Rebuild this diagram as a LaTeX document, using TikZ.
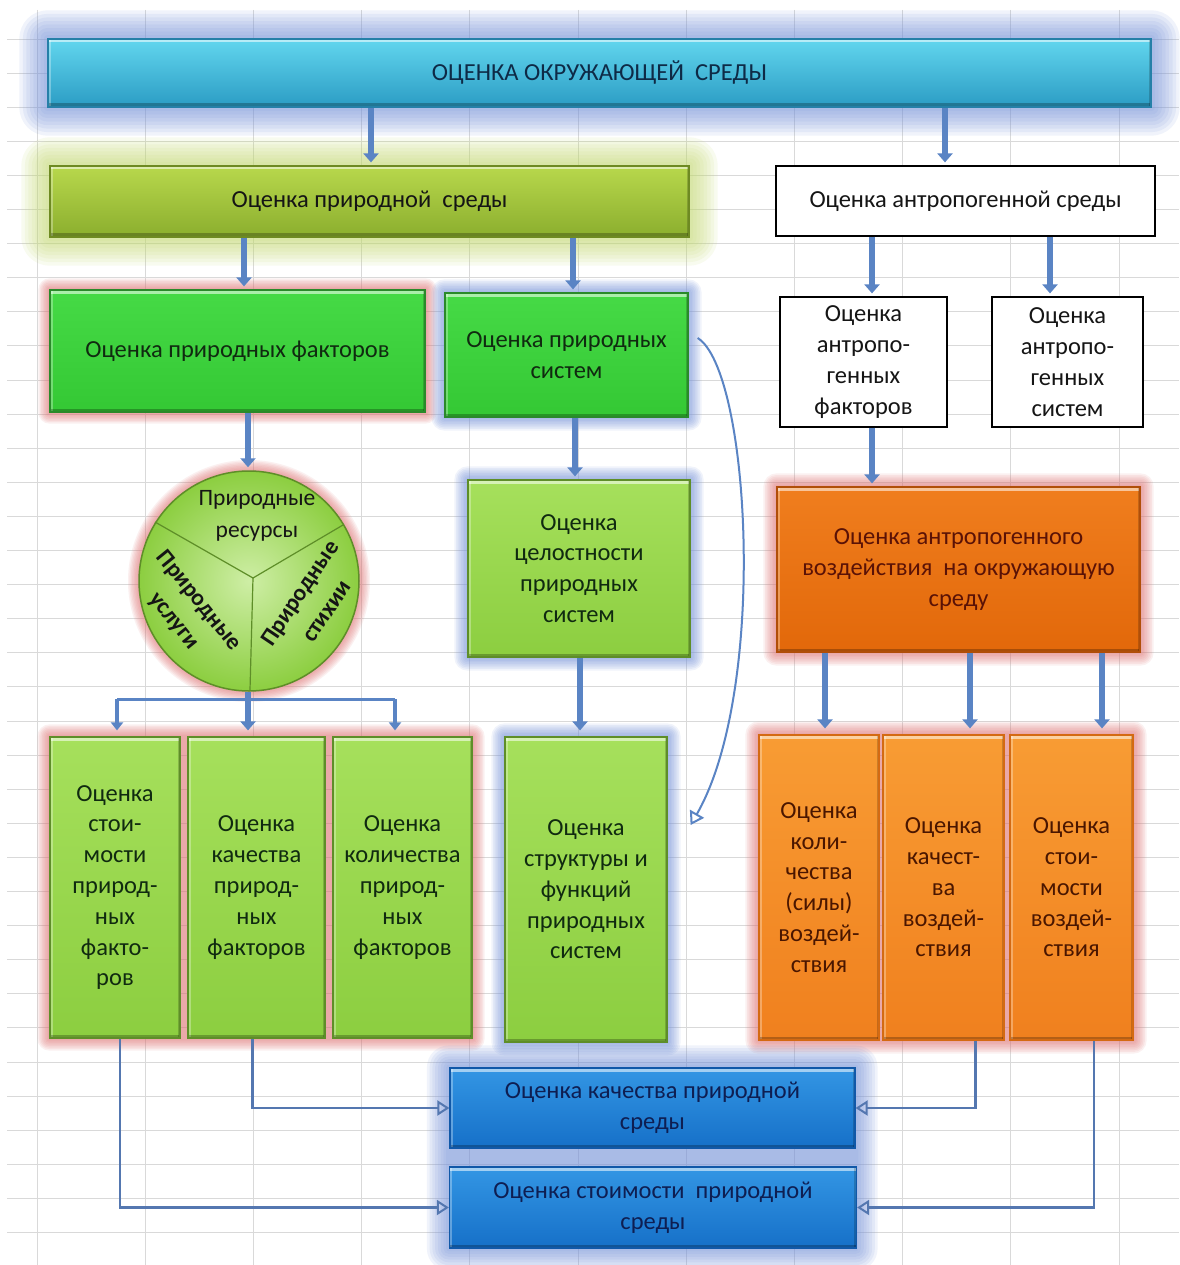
\documentclass[tikz,border=0pt]{standalone}
\usepackage{fontspec}
\setmainfont{Carlito}
\usetikzlibrary{arrows.meta,calc,backgrounds}
\definecolor{gridc}{HTML}{D9D9D9}
\definecolor{arrblue}{HTML}{5A84C4}
\definecolor{thinblue}{HTML}{5477B0}
\definecolor{glowblue}{HTML}{6F8FD8}
\definecolor{glowred}{HTML}{E07070}
\definecolor{glowyg}{HTML}{C2D86A}
\definecolor{txt}{HTML}{151515}
\newcommand\fsz{\fontsize{24.5}{30.8}\selectfont}
\newcommand\rsz{\fontsize{23.5}{32}\selectfont}
\newcommand\myglow[4]{%
  \foreach \k in {1,...,8}{%
    \pgfmathsetmacro\gs{\k*#4/8}%
    \fill[#3, opacity=0.1, rounded corners=\gs pt]
      ($#1+(-\gs pt,-\gs pt)$) rectangle ($#2+(\gs pt,\gs pt)$);
  }}
\begin{document}
\begin{tikzpicture}[x=1pt,y=-1pt,
  box/.style={draw, line width=1.2pt, align=center, inner sep=0pt, font=\fsz, text=txt},
  bevel/.style={path picture={
      \draw[white, opacity=0.55, line width=7pt] (path picture bounding box.north west) -- (path picture bounding box.north east);
      \draw[white, opacity=0.3, line width=5pt] (path picture bounding box.north west) -- (path picture bounding box.south west);
      \draw[black, opacity=0.25, line width=7pt] (path picture bounding box.south west) -- (path picture bounding box.south east);
      \draw[black, opacity=0.18, line width=5pt] (path picture bounding box.north east) -- (path picture bounding box.south east);}},
  topbox/.style={box, bevel, draw=topD, top color=topA, bottom color=topB, text=topT},
  natbox/.style={box, bevel, draw=natD, top color=natA, bottom color=natB},
  brightg/.style={box, bevel, draw=bgD, top color=bgA, bottom color=bgB, text=bgT},
  lightg/.style={box, bevel, draw=lgD, top color=lgA, bottom color=lgB, text=bgT},
  whitebox/.style={box, draw=black, fill=white},
  impbox/.style={box, bevel, draw=impD, top color=impA, bottom color=impB, text=impT},
  obox/.style={box, bevel, draw=oD, top color=oA, bottom color=oB, text=oT},
  bbox/.style={box, bevel, draw=bD, top color=bA, bottom color=bB, text=bT},
  tarrow/.style={draw=arrblue, line width=6pt, -{Triangle[width=15pt,length=9pt]}, shorten >=3pt},
  marrow/.style={draw=arrblue, line width=3.5pt, -{Triangle[width=12pt,length=8pt]}, shorten >=6pt},
  oarrow/.style={draw=thinblue, line width=2.5pt, -{Triangle[open,width=15pt,length=12pt,line width=2pt]}},
  carrow/.style={draw=arrblue, line width=2pt, -{Triangle[open,width=16pt,length=13pt,line width=2pt]}},
  rlab/.style={align=center, inner sep=0pt, font=\rsz\bfseries, text=txt}
]
\definecolor{topD}{HTML}{2580A8}
\definecolor{topA}{HTML}{62D6EE}
\definecolor{topB}{HTML}{2B9CC4}
\definecolor{topT}{HTML}{0E2A46}
\definecolor{natA}{HTML}{B8D84C}
\definecolor{natB}{HTML}{8BAE2E}
\definecolor{natD}{HTML}{6E8A22}
\definecolor{bgA}{HTML}{46DA46}
\definecolor{bgB}{HTML}{34C834}
\definecolor{bgD}{HTML}{2A8A2A}
\definecolor{bgT}{HTML}{102A10}
\definecolor{lgA}{HTML}{A6E05C}
\definecolor{lgB}{HTML}{8CCE40}
\definecolor{lgD}{HTML}{5E8E28}
\definecolor{impA}{HTML}{F07E1E}
\definecolor{impB}{HTML}{E2680A}
\definecolor{impD}{HTML}{B04E08}
\definecolor{impT}{HTML}{5A1206}
\definecolor{oA}{HTML}{F89C34}
\definecolor{oB}{HTML}{F0801E}
\definecolor{oD}{HTML}{D46A12}
\definecolor{oT}{HTML}{4A1600}
\definecolor{bA}{HTML}{3396E4}
\definecolor{bB}{HTML}{1670C8}
\definecolor{bD}{HTML}{1058A8}
\definecolor{bT}{HTML}{0E1E52}
\useasboundingbox (0,0) rectangle (1179,1265);

% ---------- nodes ----------
\node[topbox, minimum width=1103pt, minimum height=68pt] (top) at (599.5,73) {ОЦЕНКА ОКРУЖАЮЩЕЙ\ \ СРЕДЫ};
\node[natbox, minimum width=639pt, minimum height=71pt] (nat) at (369.5,201.5) {Оценка природной\ \ среды};
\node[whitebox, minimum width=379pt, minimum height=70pt] (anth) at (965.5,201) {Оценка антропогенной среды};
\node[brightg, minimum width=375pt, minimum height=122pt] (fac) at (237.5,351) {Оценка природных факторов};
\node[brightg, minimum width=243pt, minimum height=124pt] (sys) at (566.5,355) {Оценка природных\\систем};
\node[whitebox, minimum width=167pt, minimum height=130pt] (afac) at (863.5,362) {Оценка\\антропо-\\генных\\факторов};
\node[whitebox, minimum width=151pt, minimum height=130pt] (asys) at (1067.5,362) {Оценка\\антропо-\\генных\\систем};
\node[lightg, minimum width=222pt, minimum height=177pt] (integ) at (579,568.5) {Оценка\\целостности\\природных\\систем};
\node[impbox, minimum width=363pt, minimum height=165pt] (imp) at (958.5,569.5) {Оценка антропогенного\\воздействия\ \ на окружающую\\среду};
\node[circle, draw=lgD, line width=1.5pt, minimum size=220pt, inner sep=0pt, inner color=lgA!55!white, outer color=lgB] (circ) at (249,581) {};
\node[lightg, minimum width=130pt, minimum height=301pt] (g1) at (115,887.5) {Оценка\\стои-\\мости\\природ-\\ных\\факто-\\ров};
\node[lightg, minimum width=137pt, minimum height=301pt] (g2) at (256.5,887.5) {Оценка\\качества\\природ-\\ных\\факторов};
\node[lightg, minimum width=139pt, minimum height=301pt] (g3) at (402.5,887.5) {Оценка\\количества\\природ-\\ных\\факторов};
\node[lightg, minimum width=162pt, minimum height=305pt] (str) at (586,889.5) {Оценка\\структуры и\\функций\\природных\\систем};
\node[obox, minimum width=120pt, minimum height=305pt] (o1) at (819,887.5) {Оценка\\коли-\\чества\\(силы)\\воздей-\\ствия};
\node[obox, minimum width=121pt, minimum height=305pt] (o2) at (943.5,887.5) {Оценка\\качест-\\ва\\воздей-\\ствия};
\node[obox, minimum width=123pt, minimum height=305pt] (o3) at (1071.5,887.5) {Оценка\\стои-\\мости\\воздей-\\ствия};
\node[bbox, minimum width=405pt, minimum height=80pt] (b1) at (652.5,1108) {Оценка качества природной\\среды};
\node[bbox, minimum width=407pt, minimum height=81pt] (b2) at (653,1207.5) {Оценка стоимости\ \ природной\\среды};

% circle sectors and labels
\coordinate (cc) at (253,578);
\coordinate (cul) at (155,522);
\coordinate (cur) at (343,525);
\coordinate (cdn) at (250,690);
\draw[lgD, line width=1.2pt] (cul) -- (cc) -- (cur) (cc) -- (cdn);
\node[align=center, inner sep=0pt, font=\fontsize{23.5}{32}\selectfont, text=txt] (res) at (257,516) {Природные\\ресурсы};
\node[rlab, rotate=-51] (usl) at (186,611) {Природные\\услуги};
\node[rlab, rotate=56] (sti) at (313,602) {Природные\\стихии};

% ---------- connectors ----------
\coordinate (x1) at (371,0);
\coordinate (x2) at (945,0);
\coordinate (x3) at (244,0);
\coordinate (x4) at (573,0);
\coordinate (x5) at (872,0);
\coordinate (x6) at (1050,0);
\coordinate (x7) at (248,0);
\coordinate (x8) at (575,0);
\coordinate (x9) at (580,0);
\coordinate (x10) at (825,0);
\coordinate (x11) at (970,0);
\coordinate (x12) at (1102,0);
\draw[tarrow] (top.south -| x1) -- (nat.north -| x1);
\draw[tarrow] (top.south -| x2) -- (anth.north -| x2);
\draw[tarrow] (nat.south -| x3) -- (fac.north -| x3);
\draw[tarrow] (nat.south -| x4) -- (sys.north -| x4);
\draw[tarrow] (anth.south -| x5) -- (afac.north -| x5);
\draw[tarrow] (anth.south -| x6) -- (asys.north -| x6);
\draw[tarrow] (fac.south -| x7) -- (circ.north -| x7);
\draw[tarrow] (sys.south -| x8) -- (integ.north -| x8);
\draw[tarrow] (afac.south -| x5) -- (imp.north -| x5);
\draw[tarrow, shorten >=6pt] (circ.south -| x7) -- (g2.north -| x7);
\draw[tarrow, shorten >=6pt] (integ.south -| x9) -- (str.north -| x9);
\draw[tarrow, shorten >=6pt] (imp.south -| x10) -- (o1.north -| x10);
\draw[tarrow, shorten >=6pt] (imp.south -| x11) -- (o2.north -| x11);
\draw[tarrow, shorten >=6pt] (imp.south -| x12) -- (o3.north -| x12);
\coordinate (brL) at (117,699);
\coordinate (brR) at (395,699);
\draw[draw=arrblue, line width=3pt] (brL) -- (brR);
\draw[marrow] (brL) -- (brL |- g1.north);
\draw[marrow] (brR) -- (brR |- g3.north);

\draw[oarrow] ([xshift=-4pt]g2.south) |- (b1.west);
\draw[oarrow] ([xshift=5pt]g1.south) |- (b2.west);
\draw[oarrow] ([xshift=32pt]o2.south) |- (b1.east);
\draw[oarrow] ([xshift=22.5pt]o3.south) |- (b2.east);
\draw[carrow] ($(sys.east)+(9pt,17pt)$) .. controls (750,370) and (768,690) .. ($(str.east)+(23pt,64.5pt)$);

% ---------- background: white, grid, glows ----------
\begin{scope}[on background layer]
\fill[white] (0,0) rectangle (1179,1265);
\foreach \i in {0,...,10} \draw[gridc, line width=0.9pt] (37+108.2*\i,10) -- (37+108.2*\i,1265);
\foreach \j in {0,...,35} \draw[gridc, line width=0.9pt] (7,39+34.1*\j) -- (1179,39+34.1*\j);
\myglow{(top.south west)}{(top.north east)}{glowblue}{28}
\myglow{(nat.south west)}{(nat.north east)}{glowyg}{28}
\myglow{(fac.south west)}{(fac.north east)}{glowred}{11}
\myglow{(sys.south west)}{(sys.north east)}{glowblue}{13}
\myglow{(integ.south west)}{(integ.north east)}{glowblue}{13}
\myglow{(imp.south west)}{(imp.north east)}{glowred}{13}
\myglow{(g1.south west)}{(g3.north east)}{glowred}{12}
\myglow{(str.south west)}{(str.north east)}{glowblue}{13}
\myglow{(o1.south west)}{(o3.north east)}{glowred}{13}
\myglow{(b2.south west)}{(b1.north east)}{glowblue}{22}
\foreach \k in {1,...,8}{%
  \pgfmathsetmacro\gr{110+\k*11/8}%
  \fill[glowred, opacity=0.1] (circ.center) circle[radius=\gr pt];
}
\end{scope}
\end{tikzpicture}
\end{document}
